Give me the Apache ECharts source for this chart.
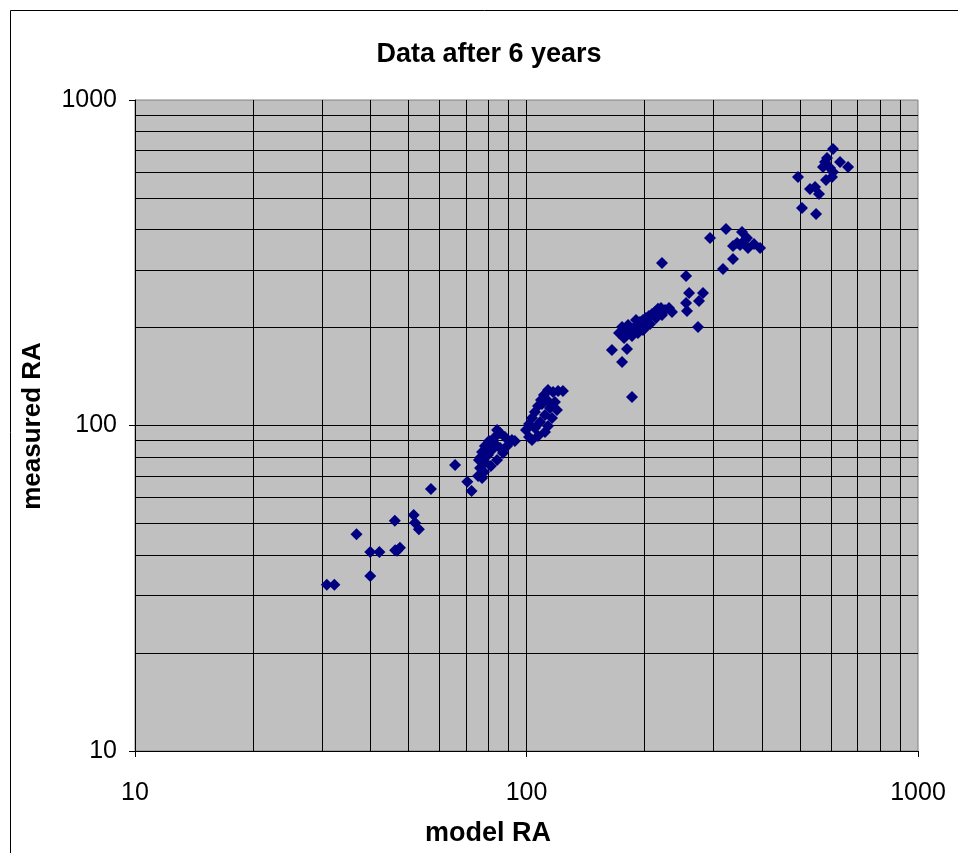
<!DOCTYPE html>
<html><head><meta charset="utf-8">
<script src="https://cdn.jsdelivr.net/npm/echarts@6/dist/echarts.min.js"></script>
<style>html,body{margin:0;padding:0;background:#fff}#c{width:958px;height:853px}</style>
</head><body><div id="c"></div>
<script>
const chartTitle = 'Data after 6 years';
const xTitle = 'model RA';
const yTitle = 'measured RA';

const modelRA = [
  30.9,32.3,36.8,39.9,42.1,39.9,46.1,46.2,47.5,46.7,51.5,51.9,53.1,57.0,65.7,70.6,72.4,
  75.2,76.1,75.6,77.0,78.3,80.2,82.6,84.1,85.6,88.1,91.8,93.4,78.3,79.7,81.6,83.6,85.6,87.1,84.1,81.1,77.9,77.0,76.5,80.2,89.2,
  99.7,101.5,103.3,105.1,107.0,108.9,110.8,113.5,116.9,120.4,123.9,105.1,108.3,111.5,114.8,118.2,113.5,116.2,119.6,111.5,103.3,107.0,101.5,109.5,112.8,
  165.3,175.4,180.6,186.0,172.3,175.4,179.6,183.8,181.7,188.2,191.5,194.9,198.4,201.9,205.5,209.2,212.9,216.7,220.6,225.9,231.2,235.3,186.0,192.6,200.7,206.8,214.2,221.9,177.5,190.4,219.3,198.4,
  221.9,255.6,260.2,282.4,275.8,255.6,257.0,274.2,317.6,336.9,
  294.2,323.3,355.2,345.0,361.5,351.1,368.0,381.2,395.0,336.9,365.8,
  606.6,632.2,662.7,578.7,585.6,571.9,606.6,603.1,582.1,596.1,493.8,529.9,545.8,558.7,505.4,549.0
];
const measuredRA = [
  32.4,32.4,46.3,40.9,40.9,34.5,51.0,41.4,42.1,41.2,53.1,50.3,48.0,63.8,75.6,67.2,62.9,
  70.0,74.0,78.3,82.9,86.5,89.6,91.5,96.9,94.8,92.2,90.3,89.6,77.2,81.2,84.1,87.1,85.3,82.3,78.3,75.1,72.0,69.0,80.0,85.3,86.5,
  96.9,101.1,105.4,110.0,114.8,119.8,124.1,128.6,126.8,127.7,127.7,98.2,102.5,107.7,113.2,118.1,99.7,105.4,111.6,95.5,90.3,92.8,92.2,116.5,119.8,
  170.6,156.7,171.8,122.4,192.4,200.7,196.5,193.8,203.6,199.3,203.6,208.0,211.0,214.0,217.0,220.2,223.3,228.2,229.8,226.5,229.8,223.3,188.4,192.4,199.3,205.0,214.0,218.6,185.7,211.0,221.7,196.5,
  315.7,287.9,255.3,255.3,241.3,237.9,224.9,200.7,302.6,324.8,
  376.7,401.5,393.0,363.6,371.5,358.4,351.0,361.0,351.0,355.9,376.7,
  707.1,644.9,622.6,644.9,663.4,622.6,600.9,580.0,567.8,618.2,580.0,532.9,540.5,514.4,465.8,446.5
];
const gridValues = [20,30,40,50,60,70,80,90,100,200,300,400,500,600,700,800,900];
const axisMin = 10, axisMax = 1000;

const FONT = '"Liberation Sans", Arial, sans-serif';
const points = modelRA.map((x, i) => [x, measuredRA[i]]);
const gridLines = gridValues.map(v => ({ xAxis: v })).concat(gridValues.map(v => ({ yAxis: v })));
const fmt = v => String(Math.round(v));

const chart = echarts.init(document.getElementById('c'), null, { renderer: 'canvas' });
chart.setOption({
  animation: false,
  backgroundColor: '#ffffff',
  grid: {
    left: 135, right: 40, top: 100, bottom: 102,
    show: true, backgroundColor: '#C0C0C0', borderColor: '#808080', borderWidth: 1
  },
  xAxis: {
    type: 'log', logBase: 10, min: axisMin, max: axisMax,
    axisLine: { show: true, lineStyle: { color: '#000', width: 1 } },
    axisTick: { show: true, inside: false, length: 6, lineStyle: { color: '#000' } },
    axisLabel: { show: true, margin: 30, color: '#000', fontSize: 25, fontFamily: FONT, formatter: fmt },
    splitLine: { show: false },
    minorTick: { show: false }
  },
  yAxis: {
    type: 'log', logBase: 10, min: axisMin, max: axisMax,
    axisLine: { show: true, lineStyle: { color: '#000', width: 1 } },
    axisTick: { show: true, inside: false, length: 6, lineStyle: { color: '#000' } },
    axisLabel: { show: true, margin: 18, color: '#000', fontSize: 25, fontFamily: FONT, formatter: fmt },
    splitLine: { show: false },
    minorTick: { show: false }
  },
  series: [
    {
      type: 'line', data: [], z: 1, silent: true,
      markLine: {
        silent: true, symbol: ['none', 'none'], animation: false,
        label: { show: false },
        lineStyle: { color: '#000', width: 1, type: 'solid' },
        emphasis: { disabled: true },
        data: gridLines
      }
    },
    {
      type: 'scatter', z: 5, data: points,
      symbol: 'diamond', symbolSize: 12,
      itemStyle: { color: '#000080', opacity: 1 }
    }
  ],
  graphic: [
    { type: 'rect', shape: { x: 10.5, y: 10.5, width: 1000, height: 1000 }, style: { fill: 'none', stroke: '#000', lineWidth: 1 }, z: 0 },
    { type: 'text', x: 489, y: 55, style: { text: chartTitle, font: 'bold 27px ' + FONT, fill: '#000', textAlign: 'center', textVerticalAlign: 'middle' } },
    { type: 'text', x: 488, y: 834, style: { text: xTitle, font: 'bold 27px ' + FONT, fill: '#000', textAlign: 'center', textVerticalAlign: 'middle' } },
    { type: 'text', x: 33, y: 426, rotation: Math.PI / 2, style: { text: yTitle, font: 'bold 26px ' + FONT, fill: '#000', textAlign: 'center', textVerticalAlign: 'middle' } }
  ]
});
</script>
</body></html>
